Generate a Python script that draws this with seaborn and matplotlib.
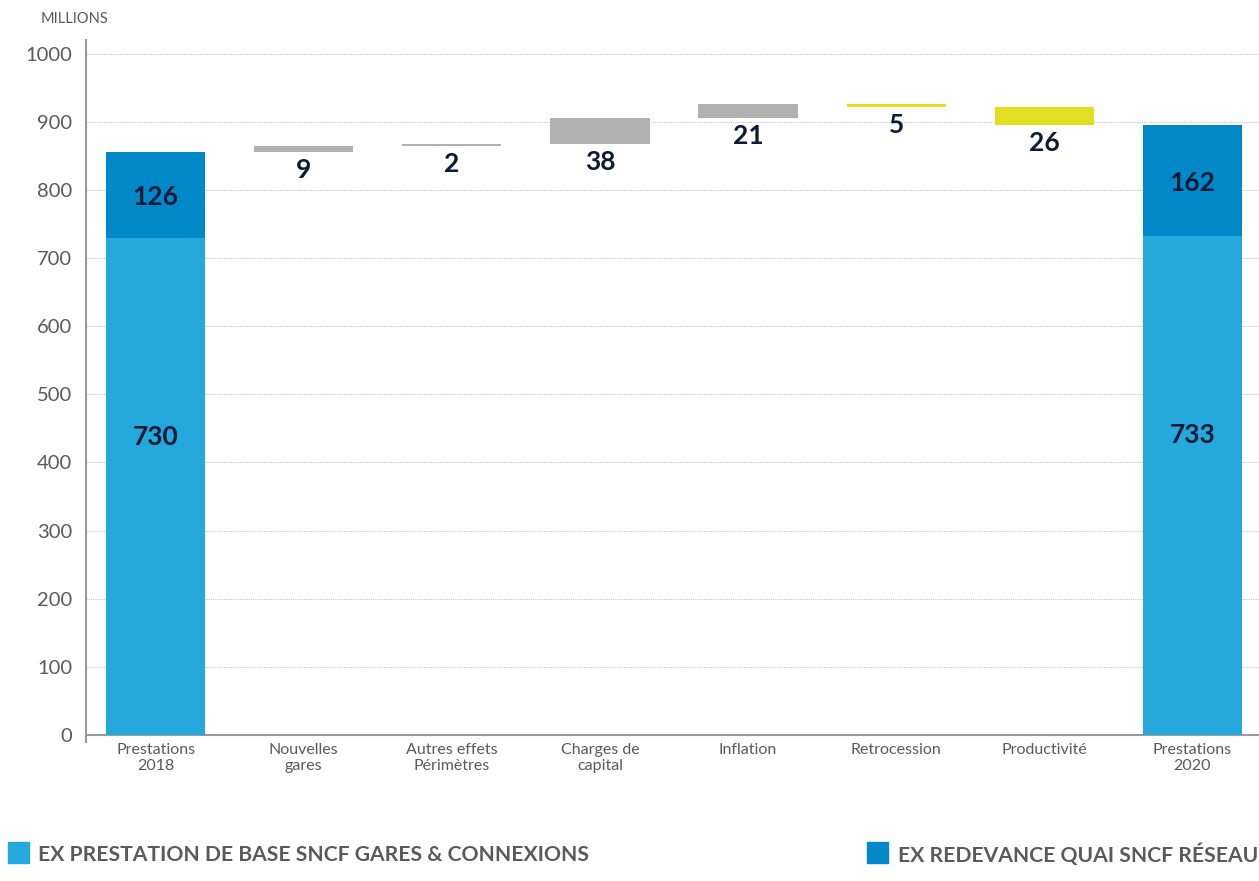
import numpy as np
import pandas as pd
import matplotlib
matplotlib.use("Agg")
import matplotlib.pyplot as plt
from matplotlib.patches import Rectangle
import seaborn as sns

# data
categories = ["Prestations\n2018", "Nouvelles\ngares", "Autres effets\nPérimètres",
              "Charges de\ncapital", "Inflation", "Retrocession", "Productivité",
              "Prestations\n2020"]
base_2018 = 730
quai_2018 = 126
steps = [9, 2, 38, 21, -5, -26]
step_colors = ["#b1b1b1", "#b1b1b1", "#b1b1b1", "#b1b1b1", "#e2de22", "#e2de22"]
base_2020 = 733
quai_2020 = 162
legend_labels = ["EX PRESTATION DE BASE SNCF GARES & CONNEXIONS",
                 "EX REDEVANCE QUAI SNCF RÉSEAU"]

light_blue = "#25a8db"
dark_blue = "#0088c8"
navy = "#0c1a36"
grey_txt = "#5a5a5a"

sns.set_style("white")
plt.rcParams["font.family"] = ["Lato", "DejaVu Sans"]

fig = plt.figure(figsize=(12.59, 8.81), dpi=100)
ax = fig.add_axes([0.0683, 0.158, 0.9317, 0.7966])

bar_w = 0.67
totals = pd.DataFrame({
    "cat": categories,
    "total": [base_2018 + quai_2018] + [np.nan] * 6 + [base_2020 + quai_2020],
    "base": [base_2018] + [np.nan] * 6 + [base_2020],
})
sns.barplot(data=totals, x="cat", y="total", order=categories, color=dark_blue,
            saturation=1, width=bar_w, ax=ax, zorder=3, linewidth=0)
sns.barplot(data=totals, x="cat", y="base", order=categories, color=light_blue,
            saturation=1, width=bar_w, ax=ax, zorder=3, linewidth=0)

# floating steps
cum = base_2018 + quai_2018
for i, (v, c) in enumerate(zip(steps, step_colors), start=1):
    lo = cum if v >= 0 else cum + v
    ax.bar(i, abs(v), bottom=lo, width=bar_w, color=c, zorder=3, linewidth=0)
    ax.annotate(f"{abs(v)}", (i, lo), xytext=(0, -18), textcoords="offset pixels",
                ha="center", va="center", fontsize=19, fontweight="bold", color=navy)
    cum += v

# labels in total bars
for i, b, q in [(0, base_2018, quai_2018), (7, base_2020, quai_2020)]:
    ax.text(i, b * 0.6, f"{b}", ha="center", va="center", fontsize=19,
            fontweight="bold", color=navy, zorder=4)
    ax.text(i, b + q / 2 - 4, f"{q}", ha="center", va="center", fontsize=19,
            fontweight="bold", color=navy, zorder=4)

ax.set_xlim(-0.47, 7.45)
ax.set_ylim(-10, 1020)
ax.set_yticks(range(0, 1001, 100))
ax.set_xlabel("")
ax.set_ylabel("")
ax.set_xticks(range(len(categories)))
ax.set_xticklabels(categories, fontsize=11.5, color=grey_txt, linespacing=1.2)
ax.tick_params(axis="x", length=0, pad=1)
ax.tick_params(axis="y", length=7, width=1, color="#9a9a9a", labelsize=14.5,
               labelcolor=grey_txt, pad=3)

for g in range(100, 1001, 100):
    ax.axhline(g, color="#c4c4c4", lw=0.8, ls=(0, (1, 1)), zorder=1)
ax.axhline(0, color="#9a9a9a", lw=1.5, zorder=2)
for s in ["top", "right", "bottom"]:
    ax.spines[s].set_visible(False)
ax.spines["left"].set_color("#9a9a9a")
ax.spines["left"].set_linewidth(1.5)

fig.text(0.032, 0.978, "MILLIONS", fontsize=10.5, color=grey_txt, ha="left", va="center")

# legend
for x0, lab, col in [(0.006, legend_labels[0], light_blue), (0.689, legend_labels[1], dark_blue)]:
    fig.add_artist(Rectangle((x0, 0.0204), 0.0167, 0.0238, transform=fig.transFigure,
                             color=col))
    fig.text(x0 + 0.0245, 0.0295, lab, fontsize=15.2, fontweight="bold", color=grey_txt,
             ha="left", va="center")

fig.savefig("out.png", dpi=100)
